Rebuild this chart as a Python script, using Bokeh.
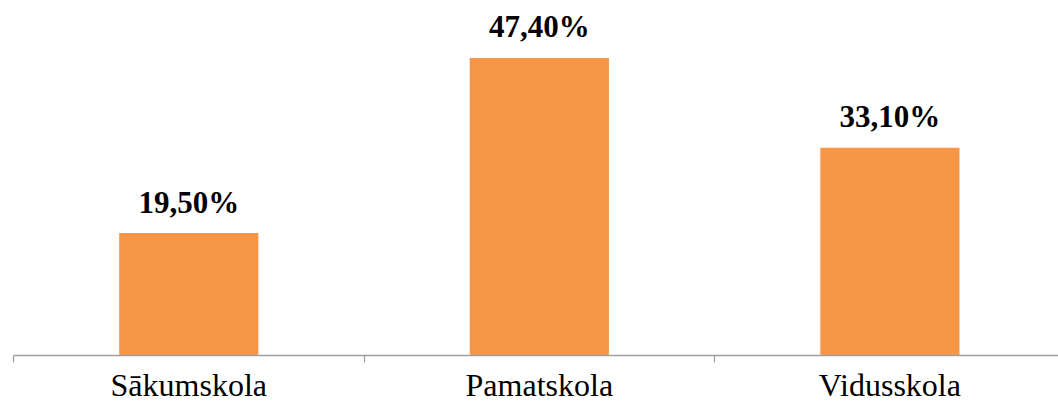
from bokeh.plotting import figure
from bokeh.models import Range1d, FixedTicker, ColumnDataSource
from bokeh.core.properties import value
from bokeh.embed import file_html
from bokeh.resources import INLINE

categories = ["Sākumskola", "Pamatskola", "Vidusskola"]
values = [19.5, 47.4, 33.1]

positions = [i + 0.5 for i in range(len(categories))]
labels = [f"{v:.2f}".replace(".", ",") + "%" for v in values]

src = ColumnDataSource(dict(x=positions, top=values, label=labels))

p = figure(width=1058, height=405, output_backend="svg", toolbar_location=None,
           x_range=Range1d(0, 2.981), y_range=Range1d(0, 56.55),
           y_axis_location=None, min_border_left=13, min_border_right=0,
           min_border_top=0, min_border_bottom=0)
p.outline_line_color = None
p.xgrid.grid_line_color = None
p.ygrid.grid_line_color = None

p.vbar(x="x", top="top", width=0.397, bottom=0, source=src,
       fill_color="#F79646", line_color=None)
p.text(x="x", y="top", text="label", source=src, text_align="center",
       text_baseline="alphabetic", y_offset=-31,
       text_font=value("Liberation Serif"), text_font_style="bold",
       text_font_size="31px", text_color="#000000")

ax = p.xaxis[0]
ax.ticker = FixedTicker(ticks=positions, minor_ticks=list(range(len(categories) + 1)))
ax.major_label_overrides = {pos: c for pos, c in zip(positions, categories)}
ax.axis_line_color = "#A0A0A0"
ax.axis_line_width = 1.3
ax.major_tick_out = 0
ax.major_tick_in = 0
ax.minor_tick_out = 7
ax.minor_tick_in = 0
ax.minor_tick_line_color = "#A0A0A0"
ax.minor_tick_line_width = 1.3
ax.major_label_standoff = 4
ax.major_label_text_font = "Liberation Serif"
ax.major_label_text_font_size = "32px"
ax.major_label_text_color = "#000000"

open("out.html", "w").write(file_html(p, INLINE))
